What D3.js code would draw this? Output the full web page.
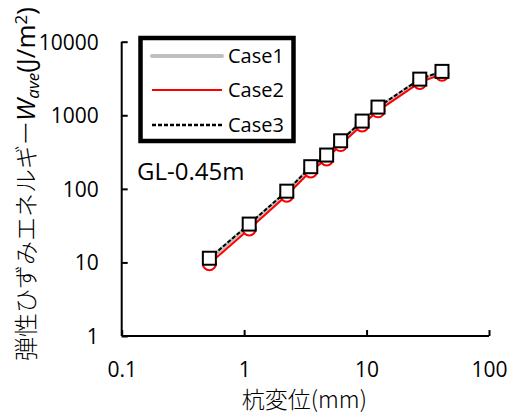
<!DOCTYPE html>
<html>
<head>
<meta charset="utf-8">
<script src="https://cdn.jsdelivr.net/npm/d3@7"></script>
<style>
  body { margin: 0; background: #fff; }
  text { font-family: "Open Sans", "Noto Sans", sans-serif; fill: #000; }
</style>
</head>
<body>
<div id="chart"></div>
<script>
// pile displacement (mm) and elastic strain energy values
const displacement = [0.52, 1.10, 2.23, 3.5, 4.72, 6.14, 9.2, 12.4, 27.2, 41.3];
const case1 = [11.0, 32.0, 90, 193, 280, 437, 810, 1250, 3000, 3850];
const case2 = [9.6, 28.5, 82, 175, 255, 400, 740, 1150, 2800, 3620];
const case3 = [11.4, 33.2, 93, 200, 288, 450, 834, 1292, 3100, 3950];
const xTicks = [0.1, 1, 10, 100];
const yTicks = [1, 10, 100, 1000, 10000];
const seriesNames = ['Case1', 'Case2', 'Case3'];

const width = 510, height = 418;
const plot = { left: 121.7, right: 489, top: 41.7, bottom: 336 };

const svg = d3.select('#chart')
  .append('svg')
    .attr('width', width)
    .attr('height', height);

const x = d3.scaleLog().domain([0.1, 100]).range([plot.left, plot.right]);
const y = d3.scaleLog().domain([1, 10000]).range([plot.bottom, plot.top]);

// axes, ticks pointing inward
const xAxis = svg.append('g')
  .attr('transform', `translate(0,${plot.bottom})`)
  .call(d3.axisBottom(x).tickValues(xTicks).tickSize(-6).tickPadding(26)
    .tickFormat(d => String(d)));
const yAxis = svg.append('g')
  .attr('transform', `translate(${plot.left},0)`)
  .call(d3.axisLeft(y).tickValues(yTicks).tickSize(-6).tickPadding(23)
    .tickFormat(d => String(d)));

[xAxis, yAxis].forEach(g => {
  g.select('.domain').attr('stroke', '#000').attr('stroke-width', 2);
  g.selectAll('.tick line').attr('stroke', '#000').attr('stroke-width', 2);
  g.selectAll('.tick text').style('font-size', '21px').attr('fill', '#000');
});
// the axis paths draw outer ticks; replace with plain lines
xAxis.select('.domain').attr('d', `M${plot.left},0H${plot.right}`);
yAxis.select('.domain').attr('d', `M0,${plot.top}V${plot.bottom}`);
yAxis.selectAll('.tick text').attr('dy', '0.35em');

const line = d3.line()
  .x((d, i) => x(displacement[i]))
  .y(d => y(d));

// Case1: thick light grey line
svg.append('path')
  .datum(case1)
  .attr('d', line)
  .attr('fill', 'none')
  .attr('stroke', '#bfbfbf')
  .attr('stroke-width', 4);

// Case2: red line with open circles
svg.append('path')
  .datum(case2)
  .attr('d', line)
  .attr('fill', 'none')
  .attr('stroke', '#ff0000')
  .attr('stroke-width', 2);
svg.append('g').selectAll('circle')
  .data(case2)
  .join('circle')
    .attr('cx', (d, i) => x(displacement[i]))
    .attr('cy', d => y(d))
    .attr('r', 6.5)
    .attr('fill', '#fff')
    .attr('stroke', '#ff0000')
    .attr('stroke-width', 2);

// Case3: black dashed line with open squares
svg.append('path')
  .datum(case3)
  .attr('d', line)
  .attr('fill', 'none')
  .attr('stroke', '#000')
  .attr('stroke-width', 2)
  .attr('stroke-dasharray', '4,2');
const sq = 13;
svg.append('g').selectAll('rect')
  .data(case3)
  .join('rect')
    .attr('x', (d, i) => x(displacement[i]) - sq / 2)
    .attr('y', d => y(d) - sq / 2)
    .attr('width', sq)
    .attr('height', sq)
    .attr('fill', '#fff')
    .attr('stroke', '#000')
    .attr('stroke-width', 2);

// legend
const legend = svg.append('g');
legend.append('rect')
  .attr('x', 140.5).attr('y', 38)
  .attr('width', 153).attr('height', 103)
  .attr('fill', '#fff')
  .attr('stroke', '#000')
  .attr('stroke-width', 4.5);
const legendStyles = [
  { color: '#bfbfbf', w: 4, dash: null },
  { color: '#ff0000', w: 2, dash: null },
  { color: '#000', w: 2.5, dash: '4,2' }
];
const legendY = [56, 90, 125];
seriesNames.forEach((name, i) => {
  legend.append('line')
    .attr('x1', 152).attr('x2', 222)
    .attr('y1', legendY[i]).attr('y2', legendY[i])
    .attr('stroke', legendStyles[i].color)
    .attr('stroke-width', legendStyles[i].w)
    .attr('stroke-linecap', i === 0 ? 'round' : 'butt')
    .attr('stroke-dasharray', legendStyles[i].dash);
  legend.append('text')
    .attr('x', 228).attr('y', legendY[i])
    .attr('dy', '0.35em')
    .style('font-size', '20px')
    .text(name);
});

// depth annotation
svg.append('text')
  .attr('x', 137).attr('y', 180)
  .style('font-size', '24px')
  .text('GL-0.45m');

// axis titles
svg.append('text')
  .attr('x', (plot.left + plot.right) / 2 - 1).attr('y', 408)
  .attr('text-anchor', 'middle')
  .style('font-size', '23px')
  .text('杭変位(mm)')
  .style('font-family', '"Noto Sans CJK JP", "Open Sans", sans-serif')
  .style('font-weight', 300);

const yTitle = svg.append('text')
  .attr('transform', 'translate(35,184) rotate(-90)')
  .attr('text-anchor', 'middle')
  .style('font-size', '24px');
yTitle.append('tspan')
  .style('font-family', '"Noto Sans CJK JP", sans-serif')
  .style('font-weight', 300)
  .text('弾性ひずみエネルギー');
yTitle.append('tspan').style('font-style', 'italic').style('font-size', '26px').text('W');
yTitle.append('tspan').style('font-style', 'italic').style('font-size', '17px')
  .attr('baseline-shift', '-25%').text('ave');
yTitle.append('tspan').style('font-size', '26px').attr('baseline-shift', '0').text('(J/m');
yTitle.append('tspan').style('font-size', '17px').attr('baseline-shift', '45%').text('2');
yTitle.append('tspan').style('font-size', '26px').text(')');
</script>
</body>
</html>
